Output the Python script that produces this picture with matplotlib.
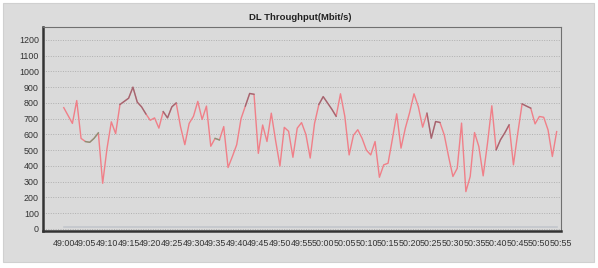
import matplotlib.pyplot as plt
from matplotlib.patches import Rectangle

plt.rcParams['font.family'] = ['Liberation Sans', 'DejaVu Sans']

# seconds since 49:00 and DL throughput (Mbit/s)
seconds = list(range(0, 115))
throughput = [
    770, 720, 670, 815, 575, 555, 550, 575, 610, 290,
    510, 680, 605, 790, 810, 830, 900, 805, 775, 730,
    690, 705, 640, 745, 705, 775, 800, 650, 535, 670,
    715, 810, 695, 780, 525, 575, 565, 650, 390, 460,
    535, 700, 780, 860, 855, 480, 660, 555, 735, 560,
    400, 645, 620, 455, 640, 675, 600, 450, 670, 790,
    840, 800, 760, 715, 858, 715, 470, 595, 630, 575,
    500, 470, 555, 328, 407, 417, 570, 731, 513, 640,
    740, 858, 777, 646, 735, 576, 682, 676, 597, 460,
    333, 385, 672, 237, 333, 612, 523, 337, 544, 782,
    502, 566, 610, 661, 407, 608, 794, 780, 767, 667,
    714, 709, 629, 460, 618,
]
# stretches where the darker / green trace shows on top
dark_spans = [(13, 19), (23, 26), (42, 44), (59, 63), (84, 87), (100, 103), (106, 108)]
green_spans = [(5, 8), (35, 36)]
baseline = [12] * len(seconds)

tick_secs = list(range(0, 120, 5))
tick_labels = ['49:%02d' % s if s < 60 else '50:%02d' % (s - 60) for s in tick_secs]

fig = plt.figure(figsize=(5.98, 2.68), dpi=100)
fig.patch.set_facecolor('white')
fig.patches.append(Rectangle((3 / 598, 6 / 268), 591 / 598, 259 / 268, transform=fig.transFigure,
                             facecolor='#dcdcdc', edgecolor='#d0d0d0', lw=0.8, zorder=-5))

ax = fig.add_axes([43 / 598, 1 - 231 / 268, 518 / 598, 204 / 268])
ax.set_facecolor('#dadada')

ax.plot(seconds, baseline, color='#c2c6cc', lw=1.2)
ax.plot(seconds, throughput, color='#f07f88', lw=1.0, zorder=3)
for a, b in dark_spans:
    ax.plot(seconds[a:b + 1], throughput[a:b + 1], color='#6e5560', lw=1.0, alpha=0.6, zorder=4)
for a, b in green_spans:
    ax.plot(seconds[a:b + 1], throughput[a:b + 1], color='#5f9a6e', lw=1.0, alpha=0.7, zorder=4)

ax.set_xlim(-4.8, 114.6)
ax.set_ylim(-13, 1282)
ax.set_yticks(range(0, 1300, 100))
ax.set_xticks(tick_secs)
ax.set_xticklabels(tick_labels)
ax.tick_params(axis='both', length=0, labelsize=6.4, colors='#333333', pad=3)
ax.tick_params(axis='x', pad=6)
for lbl in ax.get_xticklabels():
    lbl.set_clip_on(False)
ax.yaxis.grid(True, color='#b0b0b0', ls=(0, (1, 1.5)), lw=0.7)

ax.spines['left'].set_linewidth(1.8)
ax.spines['bottom'].set_linewidth(1.8)
ax.spines['left'].set_color('#333333')
ax.spines['bottom'].set_color('#333333')
ax.spines['top'].set_color('#707070')
ax.spines['right'].set_color('#707070')

fig.text(300 / 598, 1 - 17 / 268, 'DL Throughput(Mbit/s)', ha='center', va='center',
         fontsize=6.8, fontweight='bold', color='#222222')

fig.savefig('out.png', dpi=100, facecolor=fig.get_facecolor())
